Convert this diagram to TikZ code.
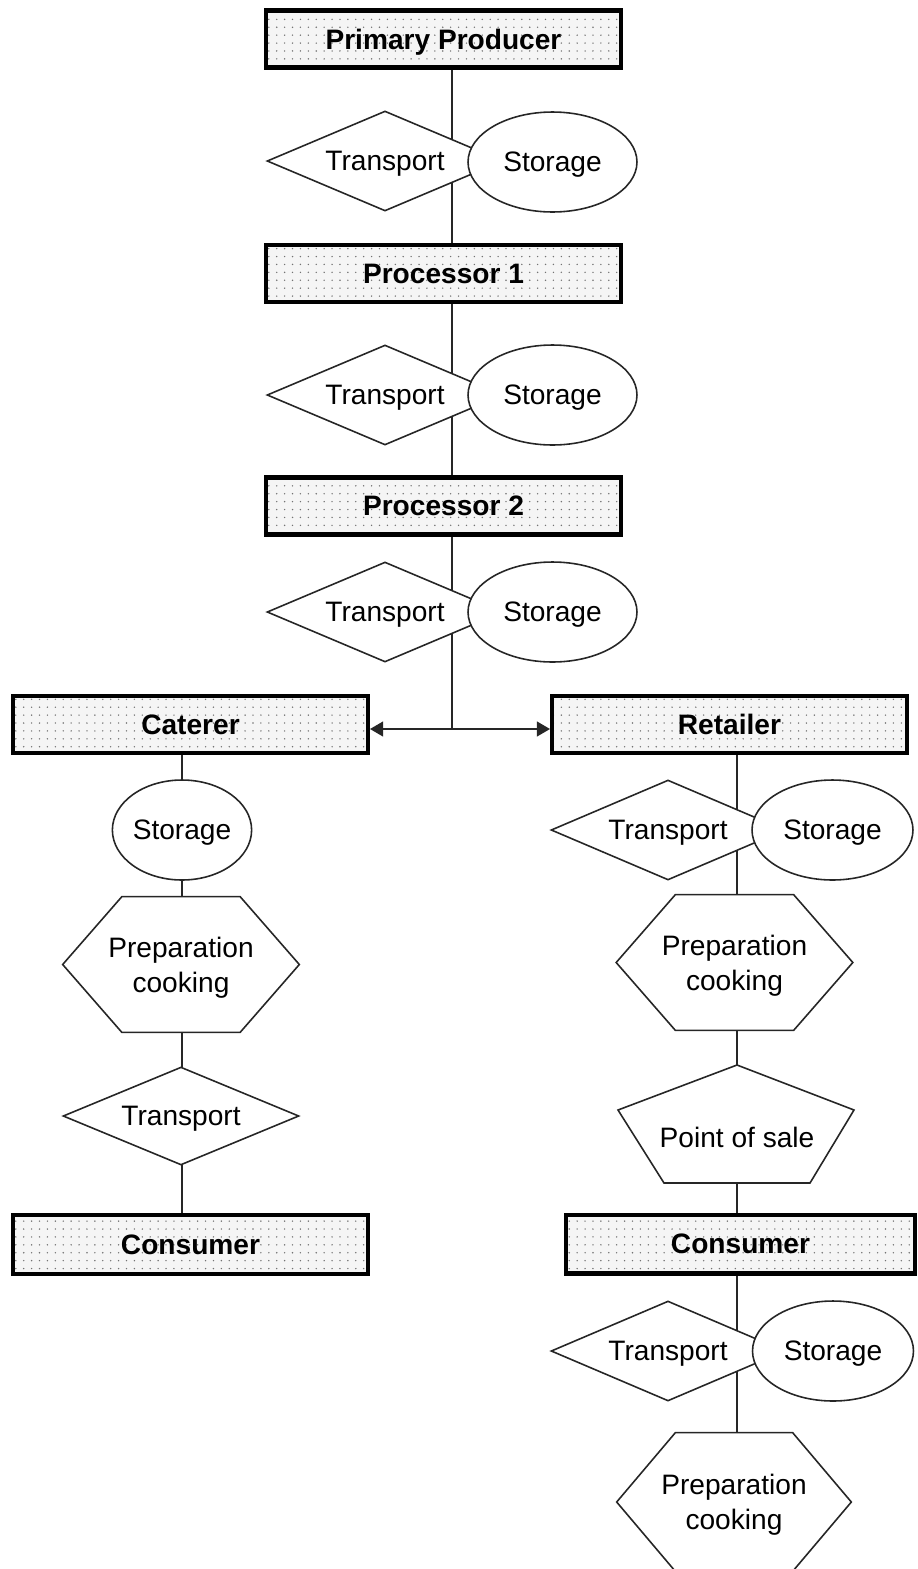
\documentclass[tikz,border=0pt]{standalone}
\usepackage{fontspec}
\setmainfont{Liberation Sans}
\usetikzlibrary{shapes.geometric,arrows.meta,patterns.meta,backgrounds,calc}

% hexagon outline around a rectangular holder node
\newcommand\hexoutline[1]{%
  \path[shapeline,fill=white] (#1.west)
    -- ($(#1.north west)!0.25!(#1.north east)$)
    -- ($(#1.north west)!0.75!(#1.north east)$)
    -- (#1.east)
    -- ($(#1.south west)!0.75!(#1.south east)$)
    -- ($(#1.south west)!0.25!(#1.south east)$)
    -- cycle;}

\begin{document}
\begin{tikzpicture}[x=0.02cm,y=-0.02cm,
  font=\fontsize{16pt}{20pt}\selectfont,
  every node/.style={text depth=0pt},
  shapeline/.style={draw=black!85,line width=0.9pt},
  stage/.style={draw=black,line width=2.3pt,font=\fontsize{16pt}{20pt}\selectfont\bfseries,
    minimum width=7.1cm,minimum height=1.14cm,inner sep=0pt,
    preaction={fill=gray!8},pattern={Dots[radius=0.45pt,distance=4.5pt]},pattern color=black!55},
  trans/.style={diamond,aspect=2.36,shapeline,fill=white,inner sep=0pt,
    minimum width=4.72cm,minimum height=2cm},
  store/.style={ellipse,shapeline,fill=white,inner sep=0pt,
    minimum width=3.38cm,minimum height=2cm},
  hexbox/.style={rectangle,inner sep=0pt,align=center,
    minimum width=4.72cm,minimum height=2.7cm},
  link/.style={draw=black!85,line width=0.9pt},
  flow/.style={link,-{Triangle[length=7.5pt,width=8.5pt]}}]

\useasboundingbox (0,0) rectangle (917,1569);

% main chain
\node[stage] (pp) at (443.5,39) {Primary Producer};
\node[trans] (t1) at (385,161) {Transport};
\node[store] (s1) at (552.5,162) {Storage};
\node[stage] (p1) at (443.5,273.5) {Processor 1};
\node[trans] (t2) at (385,395) {Transport};
\node[store] (s2) at (552.5,395) {Storage};
\node[stage] (p2) at (443.5,506) {Processor 2};
\node[trans] (t3) at (385,612) {Transport};
\node[store] (s3) at (552.5,612) {Storage};
\coordinate (j) at (452,729);

% caterer branch
\node[stage] (cat) at (190.5,724.5) {Caterer};
\node[store,minimum width=2.28cm] (s4) at (182,830) {Storage};
\node[hexbox] (h1) at (181,964.5) {Preparation\\cooking};
\node[trans,minimum height=1.96cm] (t4) at (181,1116) {Transport};
\node[stage,minimum height=1.18cm] (con1) at (190.5,1244.5) {Consumer};

% retailer branch
\node[stage] (ret) at (729.5,724.5) {Retailer};
\node[trans,aspect=2.34,minimum width=4.68cm] (t5) at (668,830) {Transport};
\node[store,minimum width=3.22cm] (s5) at (832.5,830) {Storage};
\node[hexbox] (h2) at (734.5,962.5) {Preparation\\cooking};
\node[rectangle,inner sep=0pt] (ps) at (737,1137) {Point of sale};
\node[stage,minimum width=6.98cm,minimum height=1.18cm] (con2) at (740.5,1244) {Consumer};
\node[trans,aspect=2.34,minimum width=4.68cm] (t6) at (668,1351) {Transport};
\node[store,minimum width=3.22cm] (s6) at (833,1351) {Storage};
\node[hexbox,minimum width=4.68cm,minimum height=2.76cm] (h3) at (734,1502) {Preparation\\cooking};

\begin{scope}[on background layer]
  % connectors run behind the shapes
  \draw[link] (pp.south -| j) -- (j);
  \draw[flow] (j) -- (j -| cat.east);
  \draw[flow] (j) -- (j -| ret.west);
  \draw[link] (cat.south -| s4) -- (con1.north -| s4);
  \draw[link] (ret.south -| ps) -- (con2.north -| ps);
  \draw[link] (con2.south -| ps) -- (h3.north -| ps);
  % outlined shapes filled white above the connectors
  \hexoutline{h1}
  \hexoutline{h2}
  \hexoutline{h3}
  \path[shapeline,fill=white] ($(ps)+(0,-72)$) -- ($(ps)+(117,-27)$)
    -- ($(ps)+(73,46)$) -- ($(ps)+(-73,46)$) -- ($(ps)+(-119,-27)$) -- cycle;
\end{scope}
\end{tikzpicture}
\end{document}
